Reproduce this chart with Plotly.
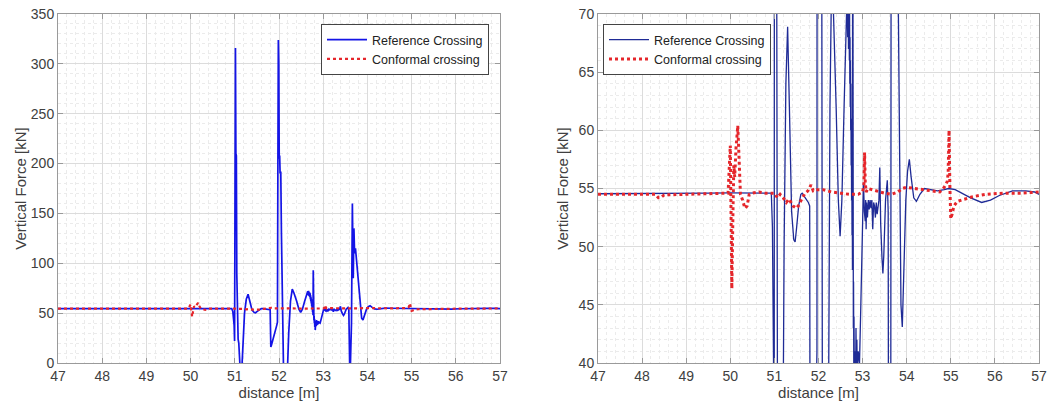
import plotly.graph_objects as go

# Vertical wheel force along the track, reference crossing vs conformal crossing
dist_ref = [
    47.0, 47.5, 48.0, 48.5, 49.0, 49.5, 50.0, 50.3, 50.6, 50.93,
    50.955, 50.975, 50.985, 50.995, 51.005, 51.015, 51.025, 51.035, 51.045, 51.06,
    51.075, 51.09, 51.12, 51.16, 51.19, 51.22, 51.26, 51.30, 51.34, 51.39,
    51.44, 51.47, 51.50, 51.55, 51.60, 51.63, 51.70, 51.77, 51.80, 51.815,
    51.83, 51.95, 51.965, 51.975, 51.985, 51.995, 52.005, 52.015, 52.025, 52.04,
    52.055, 52.08, 52.10, 52.12, 52.19, 52.22, 52.26, 52.30, 52.34, 52.40,
    52.45, 52.49, 52.53, 52.58, 52.62, 52.64, 52.65, 52.66, 52.67, 52.68,
    52.69, 52.70, 52.705, 52.71, 52.715, 52.72, 52.725, 52.73, 52.735, 52.74,
    52.745, 52.75, 52.755, 52.76, 52.765, 52.77, 52.775, 52.78, 52.785, 52.79,
    52.795, 52.80, 52.805, 52.81, 52.815, 52.82, 52.83, 52.84, 52.85, 52.86,
    52.87, 52.88, 52.90, 52.93, 52.96, 52.99, 53.02, 53.04, 53.06, 53.07,
    53.08, 53.09, 53.11, 53.13, 53.15, 53.17, 53.19, 53.21, 53.23, 53.25,
    53.27, 53.29, 53.31, 53.33, 53.35, 53.37, 53.39, 53.41, 53.44, 53.46,
    53.48, 53.52, 53.56, 53.58, 53.60, 53.615, 53.625, 53.64, 53.66, 53.67,
    53.68, 53.695, 53.71, 53.73, 53.76, 53.80, 53.83, 53.87, 53.90, 53.94,
    53.98, 54.02, 54.06, 54.10, 54.16, 54.22, 54.30, 54.40, 54.55, 54.70,
    54.85, 54.95, 55.10, 55.25, 55.45, 55.70, 55.90, 56.10, 56.40, 56.70,
    56.90, 57.0,
]
force_ref = [
    54.55, 54.55, 54.55, 54.55, 54.58, 54.6, 54.62, 54.62, 54.65, 54.6,
    51.7, 40.0, 38.0, 22.0, 295.0, 316.0, 210.0, 208.0, 90.0, 40.0,
    24.0, 20.0, -5.0, -5.0, 30.0, 50.0, 64.0, 68.9, 62.0, 53.0,
    50.6, 50.4, 51.5, 53.5, 54.5, 54.6, 54.2, 53.8, 53.5, 16.0,
    18.0, 38.0, 41.0, 200.0, 324.0, 300.0, 205.0, 208.0, 190.0, 192.0,
    130.0, 41.0, 0.0, -8.0, -8.0, 30.0, 62.0, 74.0, 70.0, 62.0,
    54.0, 50.9, 54.0, 62.0, 68.0, 70.5, 72.0, 68.0, 72.5, 67.0,
    71.0, 66.0, 70.0, 64.0, 68.0, 62.0, 66.0, 60.0, 64.0, 57.0,
    61.0, 54.0, 58.0, 51.0, 55.0, 48.0, 93.0, 46.0, 50.0, 43.0,
    47.0, 40.0, 44.0, 36.0, 42.0, 33.0, 41.0, 37.0, 43.0, 38.0,
    42.0, 39.0, 41.0, 40.0, 45.0, 52.0, 55.5, 53.0, 52.2, 54.0,
    51.5, 53.8, 52.5, 54.0, 53.2, 54.0, 53.3, 54.0, 51.5, 53.8,
    53.5, 52.5, 53.8, 52.8, 53.5, 54.0, 56.8, 52.0, 49.0, 47.7,
    49.2, 54.0, 55.7, 53.0, -5.0, -3.0, 15.0, 40.0, 160.0, 120.0,
    85.0, 135.0, 110.0, 115.0, 100.0, 75.0, 60.0, 45.0, 43.1, 48.0,
    54.0, 56.5, 57.5, 56.0, 54.2, 53.9, 54.5, 55.0, 54.9, 54.8,
    54.9, 55.0, 54.9, 54.6, 54.2, 53.8, 54.0, 54.4, 54.8, 54.8,
    54.7, 54.5,
]

dist_conf = [
    47.0, 47.5, 48.0, 48.3, 48.37, 48.42, 48.5, 49.0, 49.5, 49.95,
    50.0, 50.02, 50.035, 50.06, 50.08, 50.10, 50.13, 50.17, 50.20, 50.23,
    50.28, 50.33, 50.38, 50.43, 50.5, 50.65, 50.8, 51.0, 51.07, 51.13,
    51.2, 51.27, 51.33, 51.42, 51.5, 51.56, 51.63, 51.7, 51.76, 51.83,
    51.88, 51.95, 52.1, 52.3, 52.5, 52.7, 52.9, 53.0, 53.03, 53.045,
    53.06, 53.08, 53.12, 53.2, 53.3, 53.4, 53.5, 53.65, 53.8, 53.9,
    54.0, 54.2, 54.4, 54.6, 54.75, 54.85, 54.92, 54.94, 54.96, 54.98,
    55.0, 55.03, 55.07, 55.15, 55.3, 55.5, 55.8, 56.2, 56.6, 57.0,
]
force_conf = [
    54.5, 54.5, 54.5, 54.5, 54.2, 54.2, 54.45, 54.5, 54.55, 54.6,
    58.7, 50.0, 46.4, 53.0, 57.0, 56.0, 58.5, 60.4, 57.0, 54.5,
    54.0, 53.3, 53.5, 54.5, 54.6, 54.7, 54.6, 54.6, 54.2, 54.5,
    54.2, 53.8, 54.1, 53.5, 53.3, 53.6, 54.2, 54.6, 54.8, 55.3,
    54.8, 54.9, 54.9, 54.7, 54.6, 54.5, 54.5, 54.7, 55.3, 58.1,
    55.5, 54.7, 55.0, 54.9, 54.8, 54.7, 54.6, 54.5, 54.7, 55.0,
    55.1, 55.0, 54.9, 54.8, 54.7, 55.1, 55.6, 56.3, 60.0, 55.0,
    52.4, 52.8, 53.5, 53.9, 54.1, 54.3, 54.5, 54.6, 54.6, 54.7,
]

x_ticks = list(range(47, 58))
y_ticks_full = list(range(0, 351, 50))
y_ticks_zoom = list(range(40, 71, 5))

W, H = 1051, 407
M_T, M_B = 14, 44
FONT = "Liberation Sans, Arial, Helvetica, sans-serif"
TXT = "#404040"
FRAME = "#9a9a9a"


def px_x(p):
    return p / W


def px_y(p):
    return (H - M_B - p) / (H - M_T - M_B)


fig = go.Figure()

# full-range panel
fig.add_trace(go.Scatter(
    x=dist_ref, y=force_ref, mode="lines", name="Reference Crossing",
    line=dict(color="#1414e6", width=1.7), xaxis="x", yaxis="y", legend="legend",
))
fig.add_trace(go.Scatter(
    x=dist_conf, y=force_conf, mode="lines", name="Conformal crossing",
    line=dict(color="#e5262b", width=2.2, dash="dot"), xaxis="x", yaxis="y", legend="legend",
))

# zoomed panel
fig.add_trace(go.Scatter(
    x=dist_ref, y=force_ref, mode="lines", name="Reference Crossing",
    line=dict(color="#1f2b96", width=1.3), xaxis="x2", yaxis="y2", legend="legend2",
))
fig.add_trace(go.Scatter(
    x=dist_conf, y=force_conf, mode="lines", name="Conformal crossing",
    line=dict(color="#e5262b", width=3, dash="dot"), xaxis="x2", yaxis="y2", legend="legend2",
))


def axis(domain, rng, ticks, minor_step, anchor, title, standoff):
    return dict(
        domain=domain, range=rng, tickvals=ticks, anchor=anchor,
        automargin=False,
        showline=True, linecolor=FRAME, linewidth=1, mirror="ticks",
        ticks="inside", ticklen=5, tickcolor=FRAME,
        showgrid=True, gridcolor="#dcdcdc", gridwidth=1,
        minor=dict(dtick=minor_step, showgrid=True, gridcolor="#ebebeb",
                   griddash="dot", gridwidth=1, ticks=""),
        zeroline=False,
        tickfont=dict(family=FONT, size=14, color=TXT),
        title=dict(text=title, font=dict(family=FONT, size=15, color=TXT), standoff=standoff),
    )


fig.update_layout(
    width=W, height=H,
    margin=dict(l=0, r=0, t=M_T, b=M_B, autoexpand=False),
    paper_bgcolor="white", plot_bgcolor="white",
    xaxis=axis([px_x(58), px_x(500)], [47, 57], x_ticks, 0.2, "y", "distance [m]", 4),
    yaxis=axis([0, 1], [0, 350], y_ticks_full, 10, "x", "Vertical Force [kN]", 0),
    xaxis2=axis([px_x(598), px_x(1039)], [47, 57], x_ticks, 0.2, "y2", "distance [m]", 4),
    yaxis2=axis([0, 1], [40, 70], y_ticks_zoom, 1, "x2", "Vertical Force [kN]", 6),
    legend=dict(
        x=px_x(489), y=px_y(24), xanchor="right", yanchor="top",
        bgcolor="white", bordercolor="#444444", borderwidth=1,
        font=dict(family=FONT, size=12.5, color="#222222"),
        tracegroupgap=0, itemwidth=40,
    ),
    legend2=dict(
        x=px_x(603), y=px_y(24), xanchor="left", yanchor="top",
        bgcolor="white", bordercolor="#444444", borderwidth=1,
        font=dict(family=FONT, size=12.5, color="#222222"),
        tracegroupgap=0, itemwidth=40,
    ),
    showlegend=True,
)

fig.write_html("out.html")
